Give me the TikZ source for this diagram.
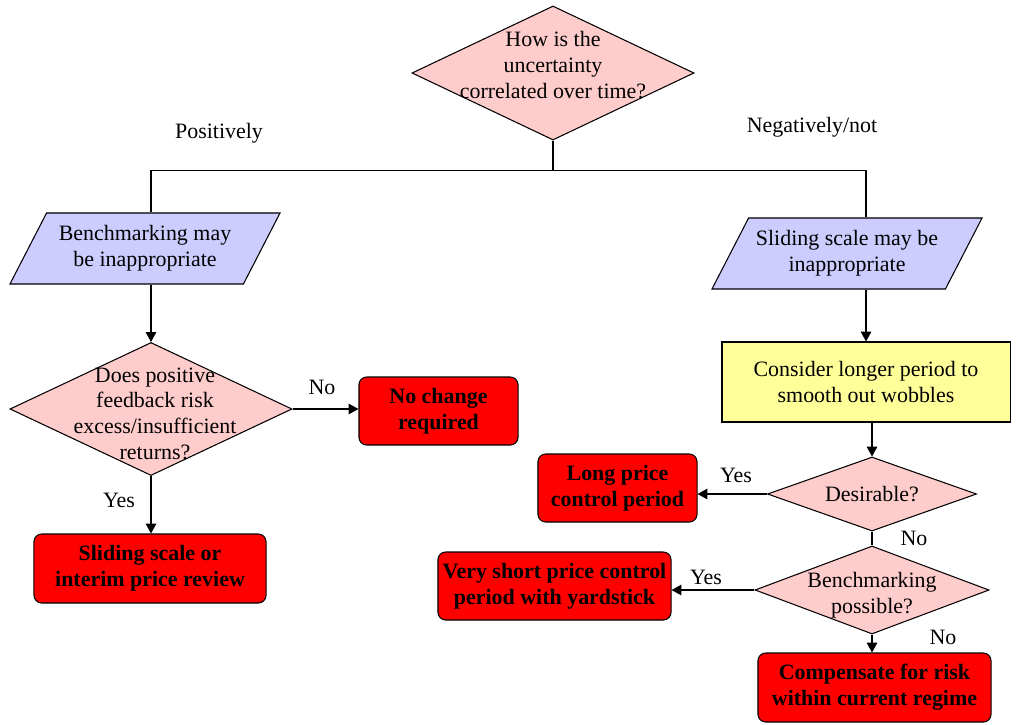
\documentclass[tikz,border=0pt]{standalone}
\usepackage{fontspec}
\setmainfont{Liberation Serif}
\usetikzlibrary{shapes.geometric, arrows.meta}
\definecolor{decpink}{HTML}{FFCCCC}
\definecolor{notelilac}{HTML}{CCCCFF}
\definecolor{stepyellow}{HTML}{FFFF99}
\definecolor{endred}{HTML}{FF0000}

\begin{document}
\begin{tikzpicture}[x=0.025cm, y=-0.025cm, line width=0.75pt,
    font=\fontsize{15.6}{18.4}\selectfont,
    decision/.style = {draw, diamond, fill=decpink, inner sep=0pt},
    dtext/.style = {align=center, inner sep=0pt},
    note/.style = {draw, trapezium, trapezium left angle=53, trapezium right angle=127,
      trapezium stretches body, fill=notelilac, align=center,
      minimum width=6.75cm, minimum height=1.775cm, inner sep=1pt},
    stepbox/.style = {draw, rectangle, fill=stepyellow, align=center, inner sep=2pt},
    outcome/.style = {draw, rectangle, rounded corners=5.5pt, fill=endred, align=center,
      font=\fontsize{15.6}{18.4}\selectfont\bfseries, inner sep=2pt, minimum height=1.7cm},
    lbl/.style = {inner sep=0pt},
    arr/.style = {-{Triangle[length=7pt, width=7.5pt]}}]
  \useasboundingbox (0,0) rectangle (1016,724);

  % top question
  \node[decision, minimum width=7.05cm, minimum height=3.35cm] (corr) at (553,73) {};
  \node[dtext] (corrtxt) at ([yshift=0.2cm]corr.center) {How is the\\uncertainty\\correlated over time?};
  \node[lbl] (pos) at (219,133) {Positively};
  \node[lbl] (neg) at (812,127) {Negatively/not};

  % the two branches
  \node[note] (benchp) at (145,248.5) {Benchmarking may\\be inappropriate};
  \node[note] (slidep) at (847,253.5) {Sliding scale may be\\inappropriate};

  % left side
  \node[decision, minimum width=7.05cm, minimum height=3.325cm] (does) at (151,409) {};
  \node[dtext] (doestxt) at ([xshift=0.1cm, yshift=-0.12cm]does.center) {Does positive\\feedback risk\\excess/insufficient\\returns?};
  \node[outcome, minimum width=3.975cm] (nochange) at (438.5,411) {No change\\required};
  \node[outcome, minimum width=5.8cm, minimum height=1.725cm] (slidebox) at (150,568.5) {Sliding scale or\\interim price review};
  \node[lbl] (no1) at (322,387) {No};
  \node[lbl] (yes1) at (119,500) {Yes};

  % right side
  \node[stepbox, minimum width=7.2cm, minimum height=2cm] (consider) at (866,382) {Consider longer period to\\smooth out wobbles};
  \node[decision, minimum width=5.225cm, minimum height=1.85cm] (desir) at (872,494) {};
  \node[dtext] (desirtxt) at (desir.center) {Desirable?};
  \node[outcome, minimum width=3.975cm] (longbox) at (617.5,488) {Long price\\control period};
  \node[decision, minimum width=5.85cm, minimum height=2.2cm] (bench) at (872,590) {};
  \node[dtext] (benchtxt) at ([yshift=-0.12cm]bench.center) {Benchmarking\\possible?};
  \node[outcome, minimum width=5.825cm] (shortbox) at (554.5,586) {Very short price control\\period with yardstick};
  \node[outcome, minimum width=5.825cm, minimum height=1.725cm] (comp) at (874.5,687.5) {Compensate for risk\\within current regime};
  \node[lbl] (yes2) at (736,475) {Yes};
  \node[lbl] (no2) at (914,538) {No};
  \node[lbl] (yes3) at (706,577) {Yes};
  \node[lbl] (no3) at (943,637) {No};

  % connectors
  \draw (corr.south) -- ++(0,30) coordinate (split);
  \draw (split) -| (benchp.north -| does.north);
  \draw (split) -| (slidep.north -| consider.north);
  \draw[arr] (benchp.south -| does.north) -- (does.north);
  \draw[arr] (does.east) -- (does.east -| nochange.west);
  \draw[arr] (does.south) -- (does.south |- slidebox.north);
  \draw[arr] (slidep.south -| consider.north) -- (consider.north);
  \draw[arr] (consider.south -| desir.north) -- (desir.north);
  \draw[arr] (desir.west) -- (desir.west -| longbox.east);
  \draw (desir.south) -- (bench.north);
  \draw[arr] (bench.west) -- (bench.west -| shortbox.east);
  \draw[arr] (bench.south) -- (bench.south |- comp.north);
\end{tikzpicture}
\end{document}
